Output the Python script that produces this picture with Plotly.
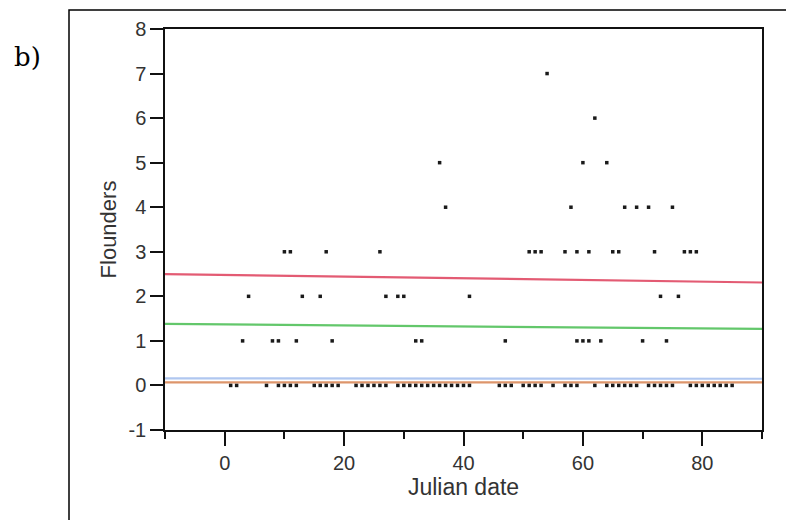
import plotly.graph_objects as go

# Observed points: (Julian date, flounders count)
row0_dates = [1, 2, 7, 9, 10, 11, 12, 15, 16, 17, 18, 19, 22, 23, 24, 25, 26, 27,
              29, 30, 31, 32, 33, 34, 35, 36, 37, 38, 39, 40, 41,
              46, 47, 48, 50, 51, 52, 53, 55, 57, 58, 59, 62,
              64, 65, 66, 67, 68, 69, 71, 72, 73, 74, 75,
              78, 79, 80, 81, 82, 83, 84, 85]
row1_dates = [3, 8, 9, 12, 18, 32, 33, 47, 59, 60, 61, 63, 70, 74]
row2_dates = [4, 13, 16, 27, 29, 30, 41, 73, 76]
row3_dates = [10, 11, 17, 26, 51, 52, 53, 57, 59, 61, 65, 66, 72, 77, 78, 79]
row4_dates = [37, 58, 67, 69, 71, 75]
row5_dates = [36, 60, 64]
row6_dates = [62]
row7_dates = [54]

rows = [row0_dates, row1_dates, row2_dates, row3_dates,
        row4_dates, row5_dates, row6_dates, row7_dates]
dates = []
counts = []
for k, r in enumerate(rows):
    dates += r
    counts += [k] * len(r)

# Fitted lines (endpoints at axis limits)
line_x = [-10, 90]
red_y = [2.50, 2.31]
green_y = [1.38, 1.27]
blue_y = [0.16, 0.15]
orange_y = [0.07, 0.07]

x_ticks = [0, 20, 40, 60, 80]
y_ticks = [-1, 0, 1, 2, 3, 4, 5, 6, 7, 8]
y_tick_labels = ["-1", "0", "1", "2", "3", "4", "5", "6", "7", "8"]

fig = go.Figure()
for ys, col in [(blue_y, "rgba(150,180,235,0.75)"),
                (orange_y, "rgba(215,130,80,0.85)"),
                (green_y, "rgba(60,185,70,0.8)"),
                (red_y, "rgba(220,50,80,0.8)")]:
    fig.add_trace(go.Scatter(x=line_x, y=ys, mode="lines",
                             line=dict(color=col, width=2.2),
                             hoverinfo="skip", showlegend=False))

fig.add_trace(go.Scatter(x=dates, y=counts, mode="markers",
                         marker=dict(symbol="square", size=3.5, color="#1a1a1a",
                                     line=dict(width=0)),
                         showlegend=False))

font_fam = "Liberation Sans, Arial, sans-serif"
fig.update_layout(
    width=786, height=520,
    margin=dict(l=165, r=24, t=29, b=90),
    paper_bgcolor="white", plot_bgcolor="white",
    font=dict(family=font_fam, size=20, color="#333"),
    xaxis=dict(range=[-10, 90], tickvals=x_ticks, ticks="outside", ticklen=14,
               tickwidth=1.5, tickcolor="#111", showgrid=False, zeroline=False,
               showline=True, linecolor="#111", linewidth=1.5, mirror=True,
               minor=dict(dtick=10, tick0=-10, ticks="outside", ticklen=7,
                          tickwidth=1.5, tickcolor="#111"),
               tickfont=dict(size=20, color="#333"),
               title=dict(text="Julian date", font=dict(size=23, color="#333"), standoff=0)),
    yaxis=dict(range=[-1, 8], tickvals=y_ticks, ticktext=y_tick_labels,
               ticks="outside", ticklen=13,
               tickwidth=1.5, tickcolor="#111", showgrid=False, zeroline=False,
               showline=True, linecolor="#111", linewidth=1.5, mirror=True,
               tickfont=dict(size=20, color="#333"),
               title=dict(text="Flounders", font=dict(size=22, color="#333"), standoff=6)),
    shapes=[dict(type="rect", xref="paper", yref="paper",
                 x0=-0.1608, x1=1.2, y0=-0.4, y1=1.0474,
                 line=dict(color="black", width=1.5), fillcolor="rgba(0,0,0,0)",
                 layer="below")],
    annotations=[dict(text="b)", xref="paper", yref="paper", x=-0.2295, y=0.93,
                      showarrow=False, xanchor="center", yanchor="middle",
                      font=dict(family="DejaVu Serif, Liberation Serif, serif",
                                size=26, color="black"))],
)

fig.write_html("out.html")
